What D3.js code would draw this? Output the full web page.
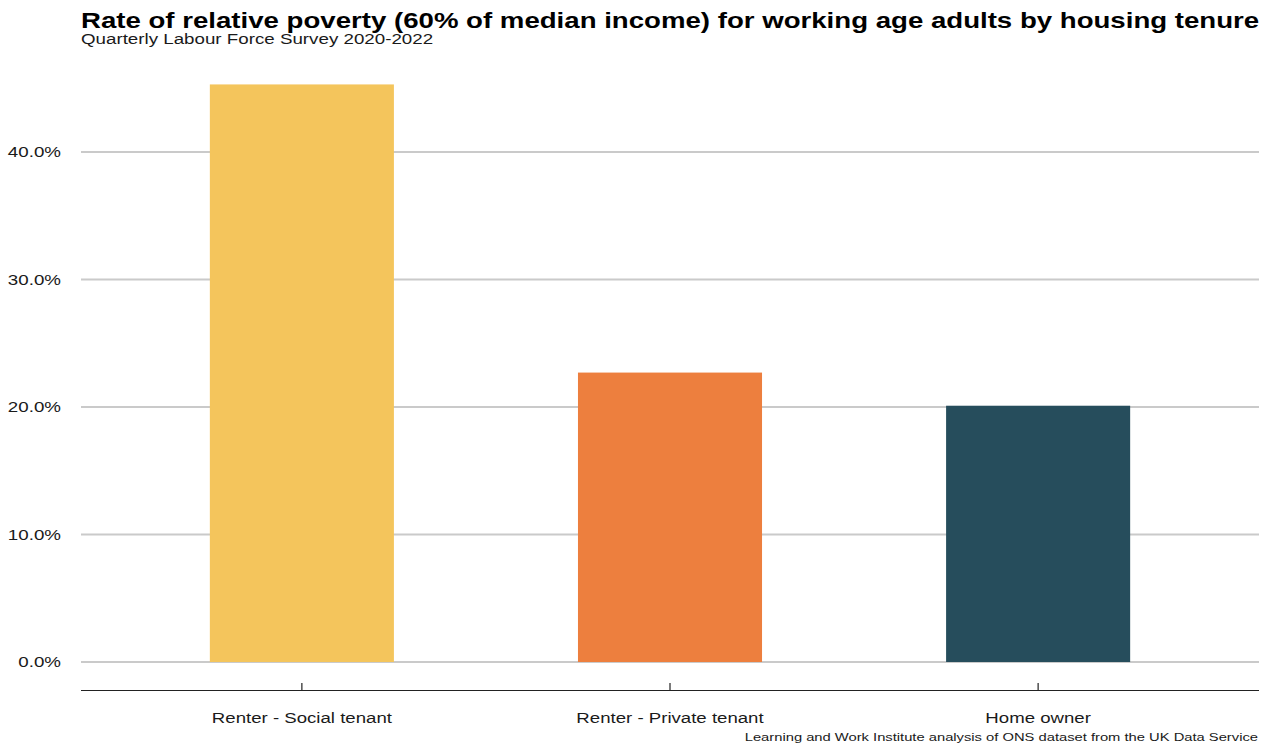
<!DOCTYPE html>
<html>
<head>
<meta charset="utf-8">
<script src="https://cdn.jsdelivr.net/npm/d3@7"></script>
<style>
  html, body { margin: 0; padding: 0; background: #fff; }
  svg { display: block; font-family: "Liberation Sans", Arial, sans-serif; }
</style>
</head>
<body>
<svg id="chart" width="1285" height="745"></svg>
<script>
// Poverty rate by housing tenure (share of working age adults)
const categories = ["Renter - Social tenant", "Renter - Private tenant", "Home owner"];
const povertyRate = [0.453, 0.227, 0.201];
const barColors = ["#F4C55C", "#ED7F3E", "#264D5C"];
const yTicks = [0, 0.1, 0.2, 0.3, 0.4];

const title = "Rate of relative poverty (60% of median income) for working age adults by housing tenure";
const subtitle = "Quarterly Labour Force Survey 2020-2022";
const caption = "Learning and Work Institute analysis of ONS dataset from the UK Data Service";

const svg = d3.select("#chart");
const plot = { left: 81, right: 1259 };
const textStretch = 1.25; // wide lettering

// Place a text with horizontal stretch around its anchor point
function placeText(sel, x, y) {
  return sel.attr("transform", `translate(${x},${y}) scale(${textStretch},1)`);
}

// Discrete axis with 0.6-unit padding on each side, bars half a unit wide
const xUnit = d3.scaleLinear().domain([0.4, 3.6]).range([plot.left, plot.right]);
const barHalf = xUnit(1.25) - xUnit(1);

const y = d3.scaleLinear().domain([0, 0.1]).range([662, 534.5]);

// Gridlines
svg.append("g").selectAll("line").data(yTicks).join("line")
  .attr("x1", plot.left).attr("x2", plot.right)
  .attr("y1", d => y(d)).attr("y2", d => y(d))
  .attr("stroke", "#cacaca").attr("stroke-width", 2);

// Bars
svg.append("g").selectAll("rect").data(categories).join("rect")
  .attr("x", (d, i) => xUnit(i + 1) - barHalf)
  .attr("width", barHalf * 2)
  .attr("y", (d, i) => y(povertyRate[i]))
  .attr("height", (d, i) => y(0) - y(povertyRate[i]))
  .attr("fill", (d, i) => barColors[i]);

// Y-axis labels
svg.append("g").selectAll("text").data(yTicks).join("text")
  .each(function (d) { placeText(d3.select(this), 61, y(d)); })
  .attr("dy", "0.36em")
  .attr("text-anchor", "end")
  .attr("font-size", 15)
  .attr("fill", "#1a1a1a")
  .text(d => d3.format(".1%")(d));

// X axis line and ticks
svg.append("line")
  .attr("x1", plot.left).attr("x2", plot.right)
  .attr("y1", 690.5).attr("y2", 690.5)
  .attr("stroke", "#222").attr("stroke-width", 1.2);

svg.append("g").selectAll("line").data(categories).join("line")
  .attr("x1", (d, i) => xUnit(i + 1)).attr("x2", (d, i) => xUnit(i + 1))
  .attr("y1", 683).attr("y2", 690)
  .attr("stroke", "#222").attr("stroke-width", 1.2);

svg.append("g").selectAll("text").data(categories).join("text")
  .each(function (d, i) { placeText(d3.select(this), xUnit(i + 1), 723); })
  .attr("text-anchor", "middle")
  .attr("font-size", 14.9)
  .attr("fill", "#1a1a1a")
  .text(d => d);

// Titles
placeText(svg.append("text"), 81, 27.5)
  .attr("font-size", 22.1).attr("font-weight", "bold")
  .attr("fill", "#000")
  .text(title);

placeText(svg.append("text"), 81, 43.5)
  .attr("font-size", 15)
  .attr("fill", "#1a1a1a")
  .text(subtitle);

placeText(svg.append("text"), 1258, 740.5)
  .attr("text-anchor", "end")
  .attr("font-size", 11.8)
  .attr("fill", "#1a1a1a")
  .text(caption);
</script>
</body>
</html>
